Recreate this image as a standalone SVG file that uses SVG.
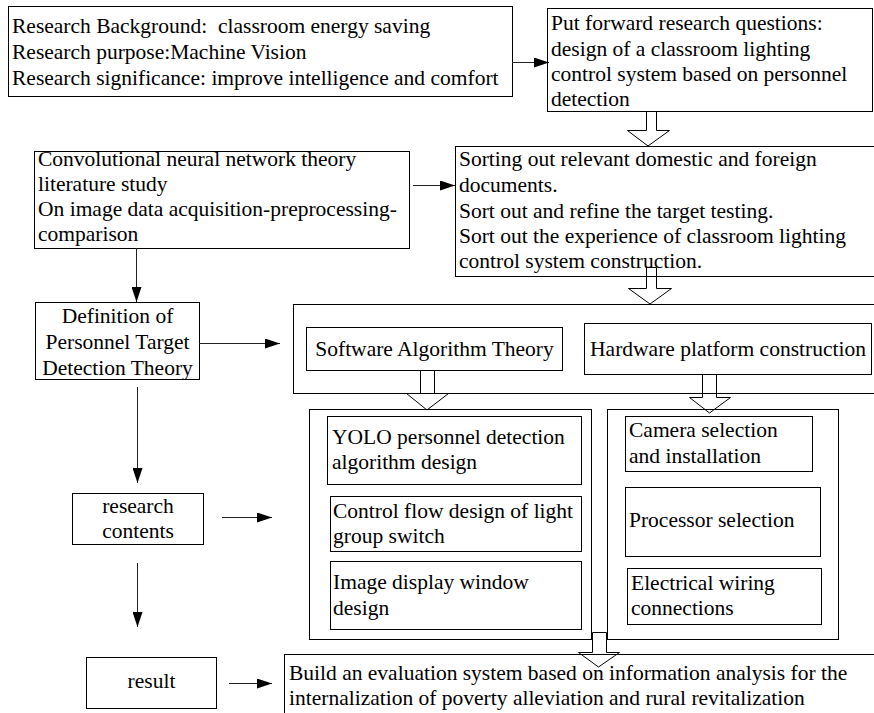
<svg xmlns="http://www.w3.org/2000/svg" width="874" height="713" viewBox="0 0 874 713">
<defs>
<marker id="ah" markerUnits="userSpaceOnUse" markerWidth="15" markerHeight="10" refX="15" refY="5" orient="auto"><path d="M0,0 L15,5 L0,10 z" fill="#000"/></marker>
<style>
.b{fill:#fff;stroke:#000;stroke-width:1}
.t{font-family:"Liberation Serif","Times New Roman",serif;font-size:21.5px;fill:#000;white-space:pre}
.m{text-anchor:middle}
.c{stroke:#222;stroke-width:1;fill:none}
.h{fill:none;stroke:#000;stroke-width:1}
</style>
</defs>
<rect width="874" height="713" fill="#fff"/>
<g id="n-background"><rect class="b" x="8.5" y="6.5" width="504" height="90"/>
<text class="t"><tspan x="12" y="33">Research Background:  classroom energy saving</tspan><tspan x="12" y="59">Research purpose:Machine Vision</tspan><tspan x="12" y="85">Research significance: improve intelligence and comfort</tspan></text></g>
<g id="n-questions"><rect class="b" x="547.5" y="8.5" width="325" height="103"/>
<text class="t"><tspan x="551" y="30">Put forward research questions:</tspan><tspan x="551" y="55.5">design of a classroom lighting</tspan><tspan x="551" y="81">control system based on personnel</tspan><tspan x="551" y="106">detection</tspan></text></g>
<g id="n-cnn"><rect class="b" x="34.5" y="151.5" width="375" height="97"/>
<text class="t"><tspan x="38" y="166">Convolutional neural network theory</tspan><tspan x="38" y="191">literature study</tspan><tspan x="38" y="216">On image data acquisition-preprocessing-</tspan><tspan x="38" y="241">comparison</tspan></text></g>
<g id="n-sorting"><rect class="b" x="455.5" y="146.5" width="430" height="130"/>
<text class="t"><tspan x="459" y="166">Sorting out relevant domestic and foreign</tspan><tspan x="459" y="192">documents.</tspan><tspan x="459" y="218">Sort out and refine the target testing.</tspan><tspan x="459" y="243">Sort out the experience of classroom lighting</tspan><tspan x="459" y="268">control system construction.</tspan></text></g>
<g id="n-definition"><rect class="b" x="35.5" y="302.5" width="164" height="77"/>
<text class="t m"><tspan x="117.5" y="323">Definition of</tspan><tspan x="117.5" y="349">Personnel Target</tspan><tspan x="117.5" y="375">Detection Theory</tspan></text></g>
<g id="n-theory"><rect class="b" x="293.5" y="304.5" width="600" height="89"/></g>
<g id="n-software"><rect class="b" x="306.5" y="327.5" width="256" height="43"/>
<text class="t m" x="434.5" y="356">Software Algorithm Theory</text></g>
<g id="n-hardware"><rect class="b" x="584.5" y="323.5" width="287" height="51"/>
<text class="t m" x="728" y="356">Hardware platform construction</text></g>
<g id="n-software-items"><rect class="b" x="309.5" y="409.5" width="282" height="230"/></g>
<g id="n-yolo"><rect class="b" x="327.5" y="416.5" width="254" height="68"/>
<text class="t"><tspan x="332" y="444">YOLO personnel detection</tspan><tspan x="332" y="469">algorithm design</tspan></text></g>
<g id="n-control"><rect class="b" x="330.5" y="496.5" width="251" height="55"/>
<text class="t"><tspan x="333" y="518">Control flow design of light</tspan><tspan x="333" y="543">group switch</tspan></text></g>
<g id="n-display"><rect class="b" x="330.5" y="561.5" width="251" height="68"/>
<text class="t"><tspan x="333" y="589">Image display window</tspan><tspan x="333" y="615">design</tspan></text></g>
<g id="n-hardware-items"><rect class="b" x="607.5" y="409.5" width="231" height="230"/></g>
<g id="n-camera"><rect class="b" x="625.5" y="416.5" width="187" height="55"/>
<text class="t"><tspan x="629" y="437">Camera selection</tspan><tspan x="629" y="463">and installation</tspan></text></g>
<g id="n-processor"><rect class="b" x="625.5" y="487.5" width="195" height="69"/>
<text class="t" x="629" y="527">Processor selection</text></g>
<g id="n-wiring"><rect class="b" x="627.5" y="568.5" width="194" height="56"/>
<text class="t"><tspan x="631" y="590">Electrical wiring</tspan><tspan x="631" y="615">connections</tspan></text></g>
<g id="n-contents"><rect class="b" x="72.5" y="493.5" width="131" height="51"/>
<text class="t m"><tspan x="138" y="513">research</tspan><tspan x="138" y="538">contents</tspan></text></g>
<g id="n-result"><rect class="b" x="86.5" y="657.5" width="130" height="51"/>
<text class="t m" x="151.5" y="688">result</text></g>
<g id="n-evaluation"><rect class="b" x="284.5" y="654.5" width="620" height="100"/>
<text class="t"><tspan x="289" y="680">Build an evaluation system based on information analysis for the</tspan><tspan x="289" y="705">internalization of poverty alleviation and rural revitalization</tspan></text></g>
<g id="connectors">
<line class="c" x1="512" y1="62.5" x2="549" y2="62.5" marker-end="url(#ah)"/>
<line class="c" x1="413" y1="185.5" x2="455" y2="185.5" marker-end="url(#ah)"/>
<line class="c" x1="136.5" y1="248" x2="136.5" y2="302" marker-end="url(#ah)"/>
<line class="c" x1="199" y1="343.5" x2="280" y2="343.5" marker-end="url(#ah)"/>
<line class="c" x1="137.5" y1="387" x2="137.5" y2="483" marker-end="url(#ah)"/>
<line class="c" x1="222" y1="517.5" x2="272" y2="517.5" marker-end="url(#ah)"/>
<line class="c" x1="137.5" y1="563" x2="137.5" y2="627" marker-end="url(#ah)"/>
<line class="c" x1="229" y1="683.5" x2="272" y2="683.5" marker-end="url(#ah)"/>
<polygon class="h" points="646.5,111.5 646.5,130.5 627.5,130.5 648,146 669.5,130.5 656.5,130.5 656.5,111.5"/>
<polygon class="h" points="646.5,267.5 646.5,288.5 628.5,288.5 650,304 671.5,288.5 656.5,288.5 656.5,267.5"/>
<polygon class="h" points="420.5,370.5 420.5,393.5 406.5,393.5 427,410 448.5,393.5 434.5,393.5 434.5,370.5"/>
<polygon class="h" points="702.5,374.5 702.5,397.5 689.5,397.5 709.5,413 730.5,397.5 716.5,397.5 716.5,374.5"/>
<polygon class="h" points="592.5,632.5 592.5,652.5 578.5,652.5 598.5,667 619.5,652.5 606.5,652.5 606.5,632.5"/>
</g>
</svg>
